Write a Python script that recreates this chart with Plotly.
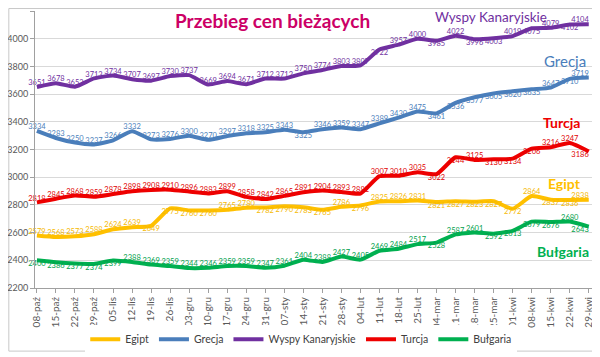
import plotly.graph_objects as go

dates = ["08-paź", "15-paź", "22-paź", "29-paź", "05-lis", "12-lis", "19-lis", "26-lis",
         "03-gru", "10-gru", "17-gru", "24-gru", "31-gru", "07-sty", "14-sty", "21-sty",
         "28-sty", "04-lut", "11-lut", "18-lut", "25-lut", "04-mar", "11-mar", "18-mar",
         "25-mar", "01-kwi", "08-kwi", "15-kwi", "22-kwi", "29-kwi"]

egipt = [2579, 2568, 2573, 2588, 2624, 2639, 2649, 2775, 2760, 2760, 2765, 2780, 2782, 2790, 2783,
         2765, 2786, 2796, 2825, 2826, 2831, 2821, 2827, 2823, 2827, 2772, 2864, 2837, 2836, 2838]
grecja = [3334, 3283, 3250, 3237, 3266, 3332, 3273, 3276, 3300, 3270, 3297, 3318, 3325, 3343, 3325,
          3346, 3359, 3347, 3389, 3430, 3475, 3461, 3536, 3577, 3605, 3620, 3635, 3647, 3710, 3719]
wyspy = [3651, 3678, 3653, 3713, 3734, 3707, 3697, 3730, 3737, 3669, 3694, 3671, 3712, 3712, 3750,
         3774, 3803, 3807, 3922, 3957, 4000, 3985, 4022, 3996, 4003, 4019, 4075, 4079, 4102, 4104]
turcja = [2818, 2845, 2868, 2859, 2878, 2898, 2908, 2910, 2896, 2883, 2899, 2858, 2842, 2865, 2891,
          2904, 2893, 2882, 3007, 3010, 3035, 3022, 3144, 3125, 3130, 3134, 3206, 3216, 3247, 3186]
bulgaria = [2400, 2386, 2377, 2374, 2399, 2388, 2369, 2359, 2344, 2346, 2359, 2359, 2347, 2361, 2404,
            2388, 2427, 2405, 2469, 2484, 2517, 2528, 2587, 2601, 2592, 2613, 2679, 2676, 2680, 2643]

series_names = ["Egipt", "Grecja", "Wyspy Kanaryjskie", "Turcja", "Bułgaria"]
series_values = [egipt, grecja, wyspy, turcja, bulgaria]
colors = ["#FFC000", "#4A7EBB", "#7030A0", "#EE0000", "#00B050"]
label_colors = ["#F5B800", "#4A7EBB", "#7030A0", "#E00000", "#00A04A"]

# label placement (style): indices placed below the line
below = {
    "Egipt": {6, 7, 8, 9, 12, 13, 14, 15, 17, 21, 22, 23, 24, 25, 27, 28},
    "Grecja": {14, 21, 22, 23, 24, 25, 26, 28},
    "Wyspy Kanaryjskie": {18, 21, 23, 24, 26, 28},
    "Turcja": {21, 22, 24, 25, 26, 29},
    "Bułgaria": {0, 1, 2, 3, 4, 21, 24, 25, 26, 27, 29},
}

fig = go.Figure()
for name, vals, col, lcol in zip(series_names, series_values, colors, label_colors):
    n = len(vals)
    pos = []
    for i in range(n):
        vert = "bottom" if i in below[name] else "top"
        horiz = "left" if i == n - 1 else "center"
        pos.append(f"{vert} {horiz}")
    fig.add_trace(go.Scatter(
        x=dates, y=vals, name=name, mode="lines+text",
        line=dict(color=col, width=4, shape="spline", smoothing=0.5),
        text=[str(v) for v in vals], textposition=pos,
        textfont=dict(family="Lato", size=7.5, color=lcol),
        cliponaxis=False,
    ))

# page has an 8px body margin, so the figure is 592x349 drawn at (8, 8)
fig.update_layout(
    width=592, height=349,
    margin=dict(l=27, r=8, t=3, b=65),
    paper_bgcolor="white", plot_bgcolor="white",
    font=dict(family="Lato", color="#404040"),
    showlegend=True,
    legend=dict(orientation="h", x=0.478, xanchor="center", y=-0.185, yanchor="middle",
                font=dict(size=10.5, color="#404040"), itemwidth=30, tracegroupgap=0),
    xaxis=dict(type="category", range=[-0.1, 29.17], tickangle=-90, automargin=False,
               tickfont=dict(size=10, color="#595959"), showgrid=False,
               showline=True, linecolor="#A0A0A0", ticks="outside", ticklen=4,
               tickcolor="#A0A0A0"),
    yaxis=dict(range=[2200, 4200], dtick=200, tickfont=dict(size=9, color="#595959"),
               automargin=False,
               showgrid=True, gridcolor="#D9D9D9", gridwidth=1,
               showline=True, linecolor="#A0A0A0", ticks="outside", ticklen=4,
               tickcolor="#A0A0A0", zeroline=False),
)

fig.add_shape(type="rect", xref="paper", yref="paper", x0=-0.047, x1=1.0126, y0=-0.2278, y1=1.0089,
              line=dict(color="#C8C8C8", width=1), layer="below")

anns = [
    ("Przebieg cen bieżących", 0.4255, 0.966, "#CC0066", 19, True),
    ("Wyspy Kanaryjskie", 0.818, 0.977, "#7030A0", 13.5, False),
    ("Grecja", 0.9515, 0.8185, "#4A7EBB", 15, False),
    ("Turcja", 0.946, 0.598, "#EE0000", 14, True),
    ("Egipt", 0.9515, 0.377, "#FFC000", 14, True),
    ("Bułgaria", 0.948, 0.1317, "#00B050", 14, True),
]
for txt, x, y, c, s, b in anns:
    fig.add_annotation(text=f"<b>{txt}</b>" if b else txt, x=x, y=y, xref="paper", yref="paper",
                       showarrow=False, font=dict(family="Lato", size=s, color=c),
                       xanchor="center", yanchor="middle")

fig.write_html("out.html")
